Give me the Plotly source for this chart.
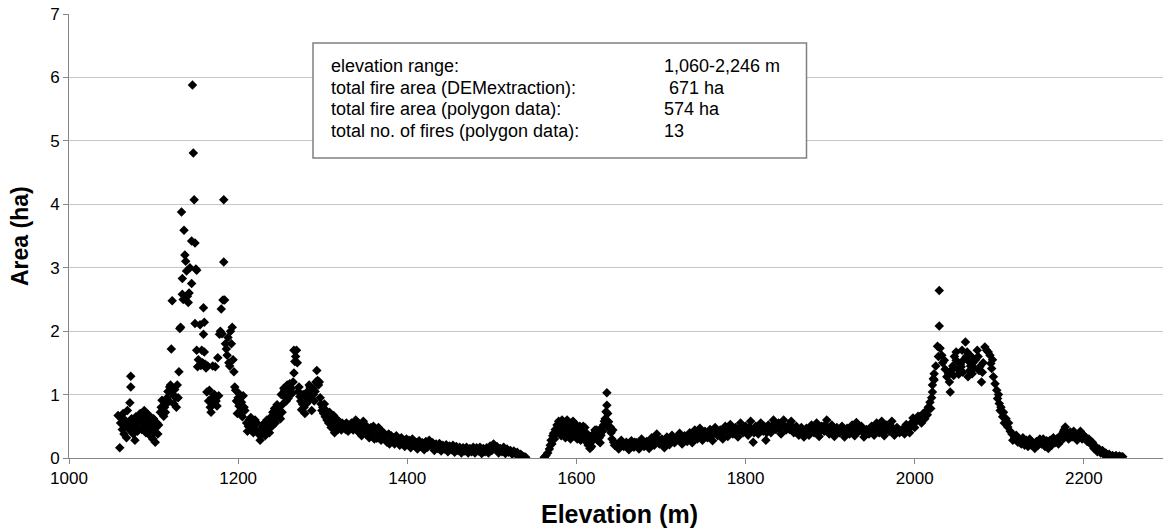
import plotly.graph_objects as go

# ---------------- data (elevation m, area ha) ----------------
peak_1100 = [
    (1058, 0.67), (1060, 0.16), (1061, 0.55), (1062, 0.62), (1063, 0.45), (1064, 0.70), (1065, 0.38),
    (1066, 0.60), (1067, 0.50), (1068, 0.32), (1069, 0.75), (1070, 0.55), (1071, 0.45), (1072, 0.87),
    (1073, 1.29), (1073, 1.12), (1074, 0.62), (1075, 0.48), (1076, 0.38), (1077, 0.55), (1078, 0.28),
    (1079, 0.65), (1080, 0.50), (1081, 0.42), (1082, 0.58), (1084, 0.70), (1085, 0.62), (1086, 0.45),
    (1087, 0.55), (1088, 0.67), (1089, 0.75), (1090, 0.50), (1091, 0.40), (1092, 0.62), (1093, 0.55),
    (1094, 0.68), (1095, 0.45), (1096, 0.35), (1097, 0.58), (1098, 0.50), (1099, 0.30), (1100, 0.62),
    (1101, 0.40), (1102, 0.25), (1103, 0.48), (1104, 0.55), (1105, 0.38), (1106, 0.52), (1108, 0.72),
    (1109, 0.80), (1110, 0.91), (1111, 0.75), (1112, 0.66), (1113, 0.80), (1114, 0.72), (1115, 0.85),
    (1116, 0.95), (1117, 1.05), (1118, 0.90), (1119, 1.12), (1120, 1.15), (1121, 1.72), (1122, 2.48),
    (1123, 1.00), (1124, 0.85), (1125, 1.08), (1126, 0.95), (1127, 0.80), (1128, 1.15), (1129, 0.95),
    (1130, 1.36), (1131, 2.04), (1132, 2.06), (1133, 3.88), (1134, 2.83), (1134, 2.58), (1135, 2.50),
    (1136, 3.59), (1137, 3.20), (1138, 3.10), (1139, 2.95), (1140, 2.55), (1141, 2.45), (1142, 2.60),
    (1143, 3.00), (1145, 3.42), (1145, 2.75), (1146, 5.88), (1147, 4.81), (1148, 4.07), (1149, 3.39),
    (1149, 2.12), (1150, 2.98), (1151, 2.96), (1151, 1.70), (1152, 1.44), (1153, 1.55), (1155, 2.10),
    (1156, 1.46), (1157, 1.70), (1158, 1.50), (1159, 2.37), (1159, 1.95), (1160, 2.14), (1160, 1.67),
    (1161, 1.48), (1162, 1.42), (1163, 1.04), (1164, 1.45), (1165, 0.90), (1166, 1.07), (1167, 0.80),
    (1168, 0.72), (1169, 0.95), (1170, 1.45), (1171, 0.85), (1172, 1.00), (1173, 1.44), (1174, 0.90),
    (1175, 0.82), (1176, 1.58), (1177, 0.98), (1178, 1.95), (1179, 2.00), (1180, 2.35), (1181, 1.96),
    (1182, 2.49), (1183, 3.09), (1183, 4.07), (1184, 2.49), (1185, 1.80), (1186, 1.72), (1187, 1.62),
    (1188, 1.90), (1189, 1.50), (1190, 1.45), (1191, 2.00), (1192, 1.80), (1193, 2.06), (1194, 1.55),
    (1195, 1.36), (1196, 1.12), (1197, 1.07), (1198, 0.90), (1199, 0.70), (1200, 0.95), (1201, 0.82),
    (1202, 1.00), (1203, 0.75), (1204, 0.88), (1205, 0.65), (1206, 0.98), (1207, 0.80), (1208, 0.75),
]

peak_1270 = [
    (1210, 0.55), (1211, 0.42), (1212, 0.50), (1213, 0.60), (1214, 0.48), (1215, 0.64), (1216, 0.45),
    (1217, 0.55), (1218, 0.40), (1219, 0.52), (1220, 0.60), (1221, 0.45), (1222, 0.55), (1224, 0.38),
    (1226, 0.28), (1227, 0.45), (1228, 0.38), (1229, 0.50), (1230, 0.42), (1231, 0.55), (1232, 0.35),
    (1233, 0.48), (1234, 0.60), (1235, 0.45), (1236, 0.52), (1237, 0.40), (1238, 0.55), (1239, 0.65),
    (1240, 0.50), (1241, 0.72), (1242, 0.60), (1243, 0.78), (1244, 0.55), (1245, 0.70), (1246, 0.84),
    (1247, 0.80), (1248, 0.65), (1249, 0.75), (1250, 0.62), (1251, 1.00), (1252, 0.72), (1253, 0.85),
    (1254, 1.10), (1255, 1.07), (1256, 0.95), (1257, 0.90), (1258, 1.15), (1259, 0.94), (1260, 1.05),
    (1261, 1.17), (1262, 1.00), (1263, 1.10), (1264, 1.02), (1265, 1.20), (1266, 1.34), (1266, 1.70),
    (1267, 1.52), (1268, 1.60), (1269, 1.70), (1270, 1.50), (1271, 1.05), (1272, 1.12), (1273, 0.97),
    (1274, 0.90), (1275, 0.76), (1276, 0.85), (1277, 1.00), (1278, 0.80), (1279, 0.70), (1280, 0.96),
    (1281, 0.86), (1282, 1.05), (1283, 0.90), (1284, 1.15), (1285, 1.12), (1286, 0.95), (1287, 0.75),
    (1288, 1.10), (1289, 1.00), (1290, 0.90), (1291, 1.05), (1292, 1.20), (1293, 1.38), (1294, 1.22),
    (1295, 1.15), (1296, 1.20), (1297, 0.95), (1298, 0.85), (1299, 0.75), (1300, 0.80),
]

decline_1300_1540 = [
    (1301, 0.70), (1302, 0.85), (1303, 0.65), (1304, 0.75), (1305, 0.60), (1306, 0.70), (1307, 0.55),
    (1308, 0.72), (1309, 0.62), (1310, 0.48), (1311, 0.60), (1312, 0.52), (1313, 0.67), (1314, 0.40),
    (1315, 0.55), (1316, 0.62), (1317, 0.50), (1318, 0.45), (1319, 0.58), (1320, 0.52), (1322, 0.44),
    (1323, 0.55), (1324, 0.48), (1325, 0.53), (1327, 0.45), (1328, 0.55), (1330, 0.42), (1331, 0.52),
    (1333, 0.48), (1334, 0.55), (1336, 0.44), (1337, 0.52), (1339, 0.60), (1340, 0.45), (1342, 0.55),
    (1343, 0.40), (1345, 0.50), (1346, 0.35), (1348, 0.58), (1349, 0.45), (1351, 0.38), (1352, 0.50),
    (1354, 0.42), (1355, 0.32), (1357, 0.48), (1358, 0.38), (1360, 0.50), (1361, 0.30), (1363, 0.45),
    (1364, 0.31), (1366, 0.48), (1367, 0.38), (1369, 0.28), (1370, 0.42), (1372, 0.40), (1373, 0.30),
    (1375, 0.35), (1376, 0.25), (1378, 0.38), (1379, 0.22), (1381, 0.35), (1382, 0.28), (1384, 0.32),
    (1385, 0.22), (1387, 0.35), (1388, 0.25), (1390, 0.30), (1391, 0.20), (1393, 0.32), (1394, 0.22),
    (1396, 0.28), (1397, 0.18), (1399, 0.30), (1400, 0.22),
    (1402, 0.28), (1404, 0.16), (1406, 0.30), (1408, 0.20), (1410, 0.25), (1412, 0.14), (1414, 0.27),
    (1416, 0.18), (1418, 0.24), (1420, 0.13), (1422, 0.26), (1424, 0.17), (1426, 0.28), (1428, 0.20),
    (1430, 0.24), (1432, 0.12), (1434, 0.22), (1436, 0.15), (1438, 0.23), (1440, 0.11), (1442, 0.20),
    (1444, 0.14), (1446, 0.21), (1448, 0.10), (1450, 0.19), (1452, 0.13), (1454, 0.20), (1456, 0.09),
    (1458, 0.18), (1460, 0.12), (1462, 0.17), (1464, 0.08), (1466, 0.16), (1468, 0.11), (1470, 0.17),
    (1472, 0.08), (1474, 0.15), (1476, 0.10), (1478, 0.17), (1480, 0.08), (1482, 0.16), (1484, 0.11),
    (1486, 0.17), (1488, 0.07), (1490, 0.15), (1492, 0.10), (1494, 0.16), (1496, 0.08), (1498, 0.19),
    (1500, 0.12), (1502, 0.22), (1504, 0.15), (1506, 0.18), (1508, 0.08), (1510, 0.15), (1512, 0.10),
    (1514, 0.17), (1516, 0.07), (1518, 0.14), (1520, 0.09), (1522, 0.12), (1524, 0.06), (1526, 0.11),
    (1528, 0.07), (1530, 0.09), (1532, 0.04), (1534, 0.06), (1536, 0.03), (1538, 0.02), (1540, 0.01),
]

decline_mid = [
    (1403, 0.22), (1407, 0.24), (1411, 0.20), (1415, 0.22), (1419, 0.19), (1423, 0.21), (1427, 0.22),
    (1431, 0.18), (1435, 0.19), (1439, 0.17), (1443, 0.17), (1447, 0.15), (1451, 0.16), (1455, 0.14),
    (1459, 0.15), (1463, 0.12), (1467, 0.13), (1471, 0.12), (1475, 0.13), (1479, 0.12), (1483, 0.13),
    (1487, 0.12), (1491, 0.12), (1495, 0.12), (1499, 0.15), (1503, 0.18), (1507, 0.13), (1511, 0.12),
    (1515, 0.12), (1519, 0.11), (1523, 0.09), (1527, 0.08), (1531, 0.06), (1535, 0.04), (1539, 0.01),
]

band_1560_1645 = [
    (1562, 0.01), (1564, 0.04), (1566, 0.08), (1568, 0.14), (1569, 0.20), (1570, 0.28), (1571, 0.22),
    (1572, 0.35), (1573, 0.39), (1574, 0.30), (1575, 0.45), (1576, 0.38), (1577, 0.52), (1578, 0.45),
    (1579, 0.58), (1580, 0.40), (1581, 0.55), (1582, 0.35), (1583, 0.60), (1584, 0.48), (1585, 0.42),
    (1586, 0.55), (1587, 0.32), (1588, 0.50), (1589, 0.60), (1590, 0.38), (1591, 0.52), (1592, 0.45),
    (1593, 0.30), (1594, 0.55), (1595, 0.40), (1596, 0.58), (1597, 0.35), (1598, 0.48), (1599, 0.42),
    (1600, 0.52), (1601, 0.30), (1602, 0.45), (1603, 0.38), (1604, 0.50), (1605, 0.28), (1606, 0.44),
    (1607, 0.36), (1608, 0.50), (1609, 0.40), (1610, 0.48), (1611, 0.32), (1612, 0.25), (1613, 0.38),
    (1614, 0.20), (1615, 0.30), (1616, 0.15), (1617, 0.25), (1618, 0.18), (1619, 0.32), (1620, 0.38),
    (1621, 0.30), (1622, 0.44), (1623, 0.35), (1624, 0.44), (1625, 0.28), (1626, 0.40), (1627, 0.32),
    (1628, 0.24), (1629, 0.36), (1630, 0.48), (1631, 0.42), (1632, 0.52), (1633, 0.58), (1634, 0.62),
    (1635, 0.73), (1636, 1.03), (1636, 0.83), (1637, 0.70), (1638, 0.57), (1639, 0.46), (1640, 0.49),
    (1641, 0.40), (1642, 0.30), (1643, 0.44), (1644, 0.25), (1645, 0.20),
]

band_1645_2000 = [
    (1647, 0.22), (1650, 0.14), (1653, 0.28), (1656, 0.18), (1659, 0.25), (1662, 0.13), (1665, 0.27),
    (1668, 0.17), (1671, 0.24), (1674, 0.14), (1677, 0.30), (1680, 0.18), (1683, 0.26), (1686, 0.15),
    (1689, 0.32), (1692, 0.20), (1695, 0.38), (1698, 0.22), (1701, 0.30), (1704, 0.16), (1707, 0.33),
    (1710, 0.21), (1713, 0.36), (1716, 0.24), (1719, 0.30), (1722, 0.39), (1725, 0.22), (1728, 0.35),
    (1731, 0.26), (1734, 0.40), (1737, 0.24), (1740, 0.44), (1743, 0.30), (1746, 0.47), (1749, 0.28),
    (1752, 0.42), (1755, 0.32), (1758, 0.45), (1761, 0.27), (1764, 0.48), (1767, 0.35), (1770, 0.44),
    (1773, 0.30), (1776, 0.50), (1779, 0.34), (1782, 0.53), (1785, 0.38), (1788, 0.48), (1791, 0.33),
    (1794, 0.55), (1797, 0.40), (1800, 0.50), (1803, 0.36), (1806, 0.58), (1809, 0.25), (1812, 0.50),
    (1815, 0.38), (1818, 0.55), (1821, 0.42), (1824, 0.28), (1827, 0.52), (1830, 0.40), (1833, 0.60),
    (1836, 0.45), (1839, 0.55), (1842, 0.38), (1845, 0.60), (1848, 0.44), (1851, 0.52), (1854, 0.58),
    (1857, 0.40), (1860, 0.50), (1863, 0.36), (1866, 0.48), (1869, 0.33), (1872, 0.47), (1875, 0.36),
    (1878, 0.52), (1881, 0.40), (1884, 0.55), (1887, 0.34), (1890, 0.50), (1893, 0.42), (1896, 0.60),
    (1899, 0.38), (1902, 0.52), (1905, 0.34), (1908, 0.48), (1911, 0.40), (1914, 0.50), (1917, 0.33),
    (1920, 0.47), (1923, 0.38), (1926, 0.52), (1929, 0.35), (1931, 0.56), (1934, 0.42), (1937, 0.50),
    (1940, 0.33), (1943, 0.45), (1946, 0.38), (1949, 0.50), (1952, 0.36), (1955, 0.55), (1958, 0.40),
    (1961, 0.58), (1964, 0.35), (1967, 0.52), (1970, 0.42), (1973, 0.58), (1976, 0.36), (1979, 0.48),
    (1982, 0.40), (1985, 0.45), (1988, 0.38), (1990, 0.53), (1992, 0.44), (1994, 0.40), (1996, 0.55),
    (1998, 0.63), (2000, 0.48),
]

band_mid = [
    (1648, 0.20), (1651, 0.24), (1654, 0.20), (1657, 0.22), (1660, 0.19), (1663, 0.22), (1666, 0.20),
    (1669, 0.25), (1672, 0.19), (1675, 0.22), (1678, 0.24), (1681, 0.22), (1684, 0.20), (1687, 0.26),
    (1690, 0.24), (1693, 0.28), (1696, 0.30), (1699, 0.27), (1702, 0.24), (1705, 0.28), (1708, 0.26),
    (1711, 0.30), (1714, 0.28), (1717, 0.26), (1720, 0.34), (1723, 0.30), (1726, 0.28), (1729, 0.32),
    (1732, 0.34), (1735, 0.30), (1738, 0.36), (1741, 0.36), (1744, 0.40), (1747, 0.36), (1750, 0.35),
    (1753, 0.38), (1756, 0.40), (1759, 0.35), (1762, 0.38), (1765, 0.42), (1768, 0.40), (1771, 0.36),
    (1774, 0.42), (1777, 0.44), (1780, 0.42), (1783, 0.46), (1786, 0.43), (1789, 0.40), (1792, 0.46),
    (1795, 0.48), (1798, 0.45), (1801, 0.42), (1804, 0.48), (1807, 0.46), (1810, 0.40), (1813, 0.45),
    (1816, 0.48), (1819, 0.46), (1822, 0.50), (1825, 0.40), (1828, 0.46), (1831, 0.50), (1834, 0.52),
    (1837, 0.50), (1840, 0.46), (1843, 0.52), (1846, 0.50), (1849, 0.48), (1852, 0.45), (1855, 0.50),
    (1858, 0.46), (1861, 0.42), (1864, 0.44), (1867, 0.40), (1870, 0.42), (1873, 0.40), (1876, 0.44),
    (1879, 0.46), (1882, 0.48), (1885, 0.44), (1888, 0.42), (1891, 0.46), (1894, 0.52), (1897, 0.48),
    (1900, 0.45), (1903, 0.44), (1906, 0.40), (1909, 0.44), (1912, 0.45), (1915, 0.42), (1918, 0.40),
    (1921, 0.42), (1924, 0.45), (1927, 0.44), (1930, 0.46), (1933, 0.48), (1936, 0.45), (1939, 0.40),
    (1942, 0.38), (1945, 0.42), (1948, 0.44), (1951, 0.42), (1954, 0.46), (1957, 0.48), (1960, 0.50),
    (1963, 0.46), (1966, 0.44), (1969, 0.48), (1972, 0.50), (1975, 0.46), (1978, 0.42), (1981, 0.45),
    (1984, 0.42), (1987, 0.44), (1990, 0.46), (1993, 0.48), (1996, 0.50), (1999, 0.55),
]

peak_2060 = [
    (2002, 0.58), (2004, 0.66), (2006, 0.65), (2008, 0.55), (2010, 0.70), (2012, 0.62), (2014, 0.75),
    (2015, 0.68), (2016, 0.80), (2018, 0.88), (2019, 0.78), (2020, 0.95), (2021, 1.04), (2021, 1.15),
    (2022, 1.25), (2023, 1.33), (2023, 1.23), (2025, 1.45), (2027, 1.76), (2028, 1.60), (2029, 2.08),
    (2029, 2.64), (2030, 1.73), (2032, 1.62), (2033, 1.50), (2035, 1.54), (2036, 1.40), (2038, 1.28),
    (2040, 1.33), (2041, 1.20), (2042, 1.04), (2043, 1.38), (2045, 1.45), (2046, 1.30), (2047, 1.60),
    (2049, 1.67), (2049, 1.54), (2051, 1.40), (2052, 1.32), (2054, 1.48), (2055, 1.44), (2056, 1.70),
    (2057, 1.35), (2058, 1.55), (2060, 1.83), (2061, 1.60), (2062, 1.67), (2063, 1.28), (2064, 1.52),
    (2065, 1.38), (2066, 1.45), (2067, 1.60), (2068, 1.33), (2069, 1.50), (2070, 1.42), (2072, 1.55),
    (2074, 1.70), (2075, 1.60), (2076, 1.38), (2077, 1.44), (2079, 1.20), (2080, 1.35), (2081, 1.50),
    (2083, 1.75), (2085, 1.70), (2087, 1.67), (2089, 1.62), (2090, 1.49), (2091, 1.41), (2092, 1.55),
    (2093, 1.28), (2095, 1.17), (2097, 1.07), (2098, 0.94), (2099, 1.00), (2100, 0.86), (2101, 0.75),
    (2102, 0.80), (2104, 0.65), (2105, 0.72), (2106, 0.55), (2108, 0.62), (2110, 0.49), (2111, 0.55),
    (2113, 0.42), (2115, 0.38), (2116, 0.28), (2118, 0.33), (2120, 0.36), (2122, 0.25),
]

tail_2120_2246 = [
    (2124, 0.30), (2126, 0.22), (2128, 0.32), (2130, 0.20), (2132, 0.28), (2134, 0.18), (2136, 0.30),
    (2138, 0.20), (2140, 0.23), (2142, 0.15), (2144, 0.26), (2146, 0.20), (2148, 0.30), (2150, 0.22),
    (2152, 0.30), (2154, 0.18), (2156, 0.27), (2158, 0.15), (2160, 0.28), (2162, 0.20), (2164, 0.32),
    (2166, 0.24), (2168, 0.30), (2170, 0.22), (2172, 0.35), (2174, 0.28), (2176, 0.42), (2178, 0.49),
    (2180, 0.38), (2182, 0.30), (2184, 0.41), (2186, 0.33), (2188, 0.42), (2190, 0.35), (2192, 0.28),
    (2194, 0.38), (2196, 0.42), (2198, 0.30), (2200, 0.36), (2202, 0.32), (2204, 0.26), (2206, 0.30),
    (2208, 0.22), (2210, 0.25), (2212, 0.15), (2214, 0.18), (2216, 0.10), (2218, 0.14), (2220, 0.08),
    (2222, 0.12), (2224, 0.05), (2226, 0.08), (2228, 0.03), (2230, 0.06), (2232, 0.02), (2234, 0.04),
    (2236, 0.02), (2238, 0.04), (2240, 0.01), (2242, 0.03), (2244, 0.02), (2246, 0.02),
]

tail_mid = [
    (2125, 0.26), (2129, 0.25), (2133, 0.23), (2137, 0.25), (2141, 0.20), (2145, 0.23), (2149, 0.26),
    (2153, 0.24), (2157, 0.22), (2161, 0.24), (2165, 0.28), (2169, 0.26), (2173, 0.31), (2177, 0.45),
    (2181, 0.34), (2185, 0.37), (2189, 0.38), (2193, 0.33), (2197, 0.36), (2201, 0.34), (2205, 0.28),
    (2209, 0.24),
]

x_ticks = [1000, 1200, 1400, 1600, 1800, 2000, 2200]
y_ticks = [0, 1, 2, 3, 4, 5, 6, 7]

info_labels = [
    "elevation range:",
    "total fire area (DEMextraction):",
    "total fire area (polygon data):",
    "total no. of fires (polygon data):",
]
info_values = ["1,060-2,246 m", " 671 ha", "574 ha", "13"]

# ---------------- build ----------------
segments = [peak_1100, peak_1270, decline_1300_1540, decline_mid, band_1560_1645,
            band_1645_2000, band_mid, peak_2060, tail_2120_2246, tail_mid]
elev = [p[0] for s in segments for p in s]
area = [p[1] for s in segments for p in s]

W, H = 1164, 529
L, R, T, B = 69, 1163, 14, 458  # plot area in pixels
FONT = "Liberation Sans, Arial, sans-serif"


def px(x):
    return (x - L) / (R - L)


def py(y):
    return (B - y) / (B - T)


fig = go.Figure()
fig.add_trace(go.Scatter(
    x=elev, y=area, mode="markers",
    marker=dict(symbol="diamond", size=7.3, color="black", line=dict(width=0)),
    showlegend=False, hoverinfo="x+y",
))

axis_common = dict(
    showline=True, linecolor="#868686", linewidth=1,
    ticks="outside", ticklen=5, tickcolor="#868686", tickwidth=1,
    tickfont=dict(family=FONT, size=17, color="black"),
    zeroline=False,
)

fig.update_xaxes(range=[1000, 1000 + (R - L) / 0.8457], tickvals=x_ticks,
                 showgrid=False, **axis_common)
fig.update_yaxes(range=[0, 7], tickvals=y_ticks, showgrid=True,
                 gridcolor="#c6c6c6", gridwidth=1, **axis_common)

# info box
fig.add_shape(type="rect", xref="paper", yref="paper",
              x0=px(313), x1=px(806.5), y0=py(158), y1=py(43),
              line=dict(color="#808080", width=1.5), fillcolor="white",
              layer="above")

line_y = [66.5, 88, 109.5, 131]
annotations = []
for lab, val, yy in zip(info_labels, info_values, line_y):
    annotations.append(dict(x=px(329), y=py(yy), xref="paper", yref="paper",
                            text=lab, showarrow=False, xanchor="left", yanchor="middle",
                            font=dict(family=FONT, size=18, color="black")))
    annotations.append(dict(x=px(662), y=py(yy), xref="paper", yref="paper",
                            text=val.replace(" ", "&nbsp;") if val.startswith(" ") else val,
                            showarrow=False, xanchor="left", yanchor="middle",
                            font=dict(family=FONT, size=18, color="black")))

# axis titles
annotations.append(dict(x=px(619), y=py(514), xref="paper", yref="paper",
                        text="<b>Elevation (m)</b>", showarrow=False,
                        xanchor="center", yanchor="middle",
                        font=dict(family=FONT, size=25, color="black")))
annotations.append(dict(x=px(20), y=py(236), xref="paper", yref="paper",
                        text="<b>Area (ha)</b>", showarrow=False, textangle=-90,
                        xanchor="center", yanchor="middle",
                        font=dict(family=FONT, size=23, color="black")))

fig.update_layout(
    width=W, height=H,
    margin=dict(l=L, r=W - R, t=T, b=H - B, pad=0),
    paper_bgcolor="white", plot_bgcolor="white",
    annotations=annotations,
    font=dict(family=FONT, color="black"),
)

fig.write_html("out.html", include_plotlyjs=True)
